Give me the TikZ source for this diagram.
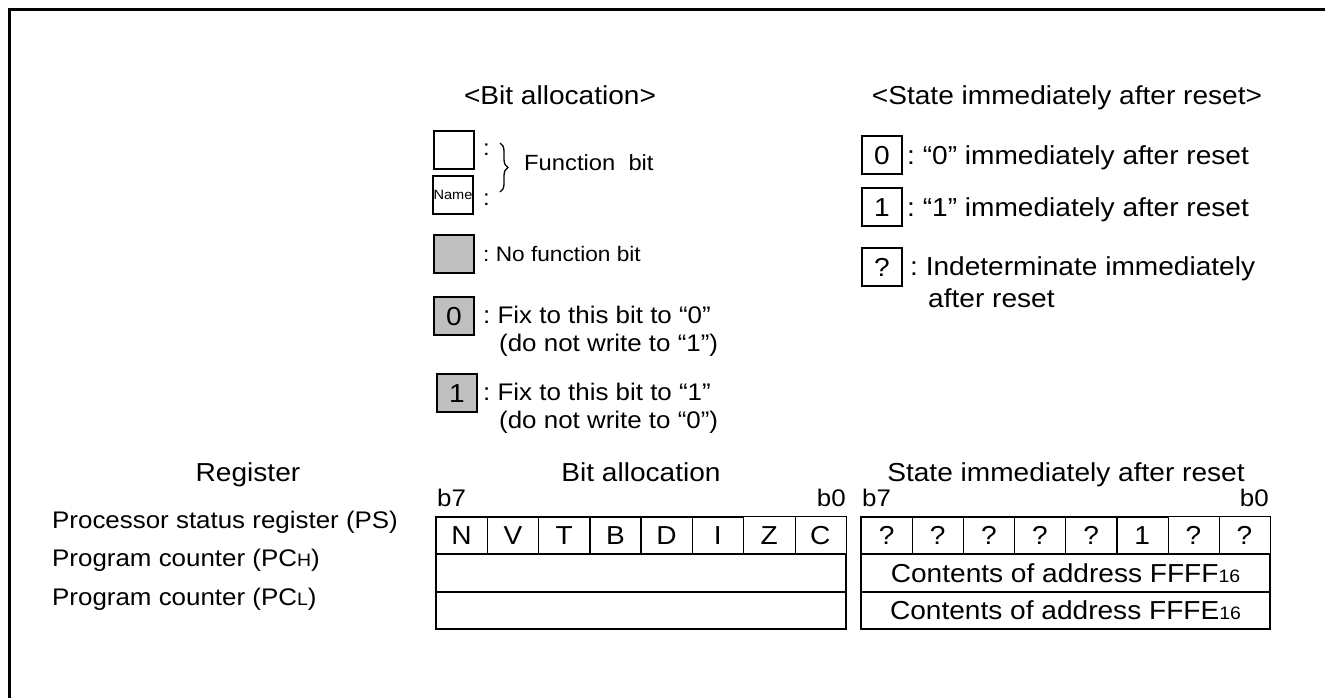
\documentclass[tikz,border=0pt]{standalone}
\usepackage{fontspec}
\setmainfont{Liberation Sans}[FakeStretch=1.08]
\usetikzlibrary{decorations.pathreplacing}
\newcommand{\fsz}[1]{\fontsize{#1}{#1}\selectfont}
\tikzset{
  T26/.style={font=\fsz{26}, inner sep=0pt, text height=18.6pt, text depth=0pt},
  T24/.style={font=\fsz{24}, inner sep=0pt, text height=17.2pt, text depth=0pt},
  T22/.style={font=\fsz{22}, inner sep=0pt, text height=15.8pt, text depth=0pt},
  T21/.style={font=\fsz{21}, inner sep=0pt, text height=15pt, text depth=0pt},
  lbox/.style={draw, line width=1.4pt, minimum width=40pt, minimum height=38pt, inner sep=0pt, font=\fsz{26}, text height=18.6pt, text depth=0pt},
  gbox/.style={lbox, fill=gray!50},
  cell/.style={minimum width=51.25pt, minimum height=37.33pt, inner sep=0pt, font=\fsz{26}, text height=18.6pt, text depth=0pt},
  wide/.style={minimum width=410pt, minimum height=37.33pt, inner sep=0pt, font=\fsz{26}, text height=18.6pt, text depth=0pt},
  thick line/.style={line width=1.5pt},
  thin line/.style={line width=0.8pt},
}
\newcommand{\sub}[1]{{\fsz{18}#1}}
\begin{document}
\begin{tikzpicture}[x=1pt,y=-1pt]
\useasboundingbox (0,0) rectangle (1325,697);
% frame
\draw[line width=3pt] (9.5,720) -- (9.5,9.5) -- (1350,9.5);

% ---- left legend ----
\node[T26] (hba) at (560,95) {<Bit allocation>};
\node[lbox] (fb1) at (454,150) {};
\node[T22, anchor=west] (c1) at (483,148) {:};
\node[lbox, font=\fsz{13.5}, text height=9.7pt] (fb2) at (453,195) {Name};
\node[T22, anchor=west] (c2) at (483,198) {:};
\draw[line width=1.3pt, decorate, decoration={brace, amplitude=8pt}] (500,143) -- (500,192);
\node[T22, anchor=west] (fbt) at (524,163) {Function\ \ bit};

\node[gbox] (nf) at (454,254) {};
\node[T21, anchor=west] (nft) at (483,254) {:\ No function bit};

\node[gbox] (f0) at (454,316) {0};
\node[T24, anchor=west] (f0a) at (483,315) {:\ Fix to this bit to “0”};
\node[T24, anchor=west] (f0b) at (499,343) {(do not write to “1”)};

\node[gbox] (f1) at (457,393) {1};
\node[T24, anchor=west] (f1a) at (483,392) {:\ Fix to this bit to “1”};
\node[T24, anchor=west] (f1b) at (499,420) {(do not write to “0”)};

% ---- right legend ----
\node[T26] (hst) at (1067,95) {<State immediately after reset>};
\node[lbox] (s0) at (882,155) {0};
\node[T26, anchor=west] (s0t) at (907,155) {:\ “0” immediately after reset};
\node[lbox] (s1) at (882,207) {1};
\node[T26, anchor=west] (s1t) at (907,207) {:\ “1” immediately after reset};
\node[lbox] (sq) at (882,267) {?};
\node[T26, anchor=west] (sqa) at (910,266) {:\ Indeterminate immediately};
\node[T26, anchor=west] (sqb) at (928,298) {after reset};

% ---- bottom ----
\node[T26] (hreg) at (248,472) {Register};
\node[T26] (hbit) at (641,472) {Bit allocation};
\node[T26] (hsta) at (1066,472) {State immediately after reset};
\node[T24, anchor=west] (b7l) at (437,498) {b7};
\node[T24, anchor=east] (b0l) at (846,498) {b0};
\node[T24, anchor=west] (b7r) at (862,498) {b7};
\node[T24, anchor=east] (b0r) at (1269,498) {b0};

\node[T24, anchor=west] (rps) at (52,520) {Processor status register (PS)};
\node[T24, anchor=west] (rph) at (52,558) {Program counter (PC\sub{H})};
\node[T24, anchor=west] (rpl) at (52,597) {Program counter (PC\sub{L})};

% left table
\foreach \t [count=\i from 0] in {N,V,T,B,D,I,Z,C}
  \node[cell] (ba\i) at ({436+51.25*(\i+0.5)}, 535.67) {\t};
\node[wide] (bah) at (641,573) {};
\node[wide] (bal) at (641,610.33) {};
\draw[thick line] (ba5.north east) -- (ba0.north west) -- (bal.south west) -- (bal.south east) -- (bah.north east) -- (ba7.south east);
\draw[thick line] (bah.north west) -- (bah.north east) (bah.south west) -- (bah.south east);
\foreach \i in {0,...,4} \draw[thick line] (ba\i.north east) -- (ba\i.south east);
\draw[thin line] (ba5.north east) -- (ba7.north east) -- (ba7.south east);
\draw[thin line] (ba5.north east) -- (ba5.south east) (ba6.north east) -- (ba6.south east);

% right table
\foreach \t [count=\i from 0] in {?,?,?,?,?,1,?,?}
  \node[cell, minimum width=51.125pt] (st\i) at ({861+51.125*(\i+0.5)}, 535.67) {\t};
\node[wide, minimum width=409pt] (sth) at (1065.5,573) {Contents of address FFFF\sub{16}};
\node[wide, minimum width=409pt] (stl) at (1065.5,610.33) {Contents of address FFFE\sub{16}};
\draw[thick line] (st5.north east) -- (st0.north west) -- (stl.south west) -- (stl.south east) -- (sth.north east) -- (st7.south east);
\draw[thick line] (sth.north west) -- (sth.north east) (sth.south west) -- (sth.south east);
\foreach \i in {0,...,4} \draw[thick line] (st\i.north east) -- (st\i.south east);
\draw[thin line] (st5.north east) -- (st7.north east) -- (st7.south east);
\draw[thin line] (st5.north east) -- (st5.south east) (st6.north east) -- (st6.south east);
\end{tikzpicture}
\end{document}
